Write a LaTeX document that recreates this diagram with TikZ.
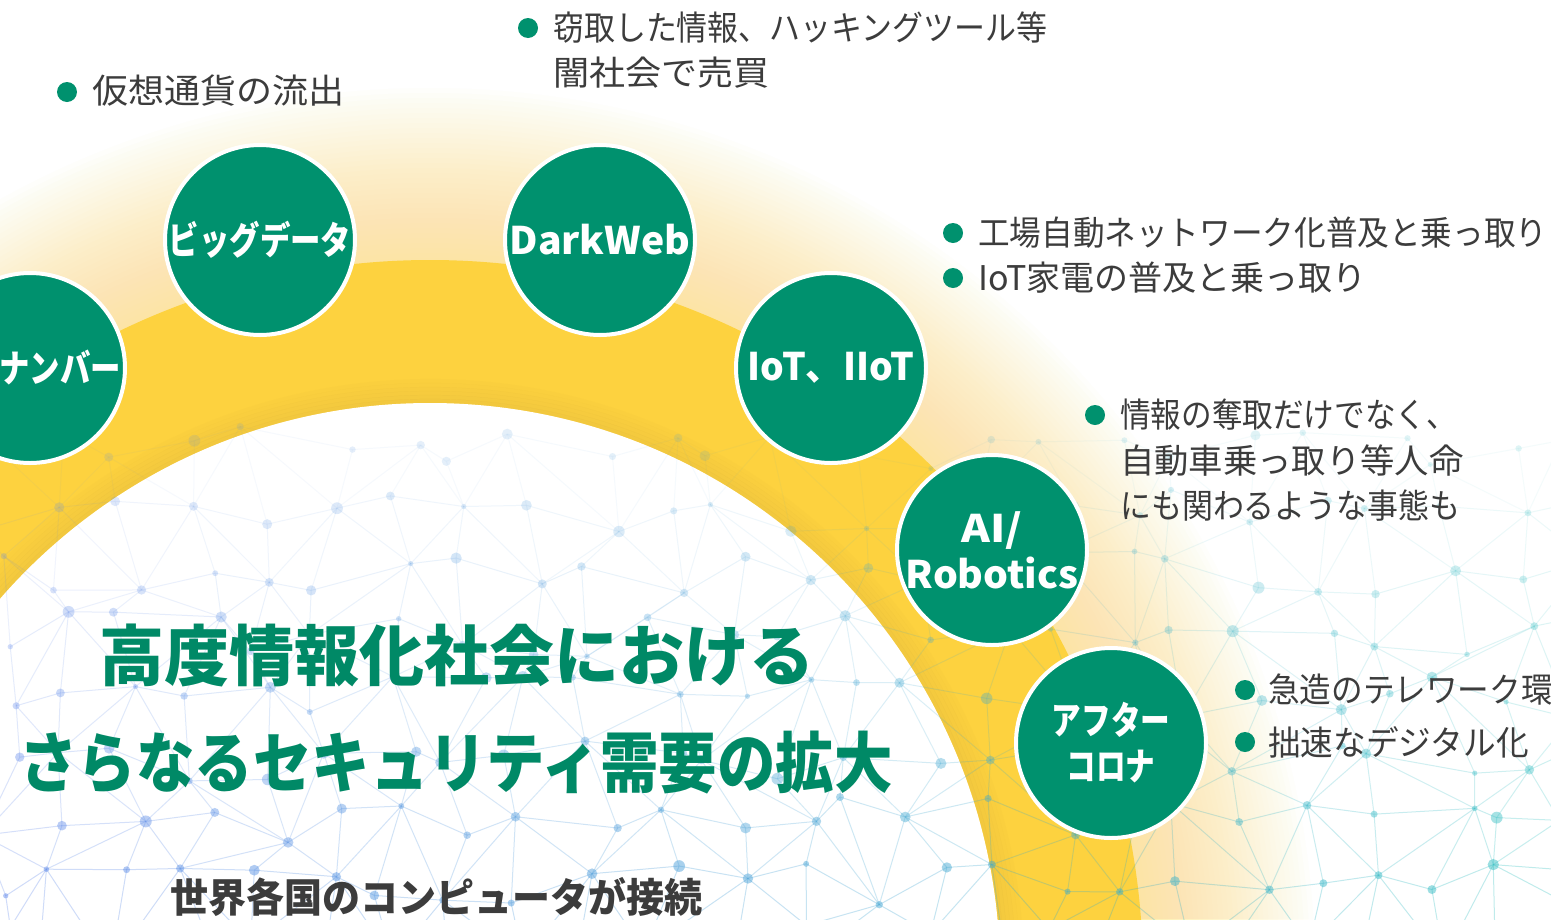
\documentclass[tikz,border=0pt]{standalone}
\usepackage{fontspec}
\usepackage{graphicx}
\newfontfamily\jp{Noto Sans CJK JP}
\definecolor{gcol}{RGB}{0,145,110}
\definecolor{tgreen}{RGB}{0,137,102}
\definecolor{ringy}{RGB}{253,210,63}
\definecolor{haloy}{RGB}{252,228,118}
\definecolor{shadeY}{RGB}{190,150,60}
\definecolor{tgray}{RGB}{60,60,60}
\definecolor{netA}{RGB}{95,135,235}
\definecolor{netB}{RGB}{40,190,190}
\newcommand{\xs}[2]{\scalebox{#1}[1]{#2}}
\begin{document}
\begin{tikzpicture}[x=1pt,y=-1pt,
  gcirc/.style={circle, fill=gcol, draw=white, line width=4pt, minimum size=190pt, inner sep=0pt, text=white, font=\jp\bfseries\fontsize{38}{46}\selectfont, align=center},
  btxt/.style={anchor=west, inner sep=0pt, text=tgray, font=\jp\fontsize{34}{40}\selectfont},
  dot/.style={circle, fill=gcol, minimum size=20pt, inner sep=0pt},
  ttl/.style={inner sep=0pt, text=tgreen, font=\jp\bfseries\fontsize{66}{70}\selectfont},
  subttl/.style={inner sep=0pt, text=tgray, font=\jp\bfseries\fontsize{40}{44}\selectfont},
  netline/.style={line width=1pt},
]
\useasboundingbox (0,0) rectangle (1551,919);
\clip (0,0) rectangle (1551,919);
\fill[white] (0,0) rectangle (1551,919);
\coordinate (ctr) at (430,973);
% halo
\foreach \r in {885,880,...,715}{
  \fill[haloy, opacity=0.022] (ctr) circle (\r);
}
% ring
\fill[ringy] (ctr) circle (713);
\foreach \r [evaluate=\r as \o using {0.16-(\r-572)/160}] in {572,576,...,592}{
  \draw[shadeY, opacity=\o, line width=4.2pt] (ctr) circle (\r);
}
\fill[white] (ctr) circle (570);
% network background
\pgfmathsetseed{42}
\foreach \i in {0,...,24}{
  \foreach \j in {0,...,8}{
    \pgfmathsetmacro\px{\i*66 - 25 + 50*rnd}
    \pgfmathsetmacro\py{425 + \j*62 + 46*rnd}
    \coordinate (n-\i-\j) at (\px,\py);
  }
}
\foreach \i in {0,...,23}{
  \foreach \j in {0,...,7}{
    \pgfmathtruncatemacro\ii{\i+1}
    \pgfmathtruncatemacro\jj{\j+1}
    \pgfmathtruncatemacro\mix{100*\i/23}
    \pgfmathsetmacro\op{0.05+0.035*\j}
    \pgfmathtruncatemacro\alt{mod(\i+\j,2)}
    \draw[netline, color=netB!\mix!netA, opacity=\op] (n-\i-\j) -- (n-\ii-\j) (n-\i-\j) -- (n-\i-\jj);
    \ifnum\alt=0
      \draw[netline, color=netB!\mix!netA, opacity=\op] (n-\i-\j) -- (n-\ii-\jj);
    \else
      \draw[netline, color=netB!\mix!netA, opacity=\op] (n-\ii-\j) -- (n-\i-\jj);
    \fi
  }
}
\foreach \i in {0,...,24}{
  \foreach \j in {0,...,8}{
    \pgfmathtruncatemacro\mix{100*\i/24}
    \pgfmathsetmacro\op{0.15+0.045*\j}
    \pgfmathsetmacro\rr{2.5+3.5*rnd}
    \fill[color=netB!\mix!netA, opacity=\op] (n-\i-\j) circle (\rr);
  }
}
% circles
\node[gcirc] (myn) at (30,368) {\xs{0.8}{マイナンバー}};
\node[gcirc] (big) at (260,240) {\xs{0.8}{ビッグデータ}};
\node[gcirc] (dark) at (600,240) {\xs{1.03}{DarkWeb}};
\node[gcirc] (iot) at (831,368) {\xs{0.98}{IoT、IIoT}};
\node[gcirc] (ai) at (992,550) {\xs{1.15}{AI/}\\\xs{1.03}{Robotics}};
\node[gcirc] (aft) at (1111,743) {\xs{0.78}{アフター}\\\xs{0.78}{コロナ}};
% bullets
\node[dot] (d1) at (67,92) {};
\node[btxt] (t1) at (92,91) {\xs{1.06}{仮想通貨の流出}};
\node[dot] (d2) at (528,28) {};
\node[btxt] (t2a) at (553,28) {\xs{0.91}{窃取した情報、ハッキングツール等}};
\node[btxt] (t2b) at (553,73) {\xs{1.06}{闇社会で売買}};
\node[dot] (d3) at (953,233) {};
\node[btxt] (t3) at (978,233) {\xs{0.93}{工場自動ネットワーク化普及と乗っ取り}};
\node[dot] (d4) at (953,278) {};
\node[btxt] (t4) at (978,278) {\xs{1.0}{IoT家電の普及と乗っ取り}};
\node[dot] (d5) at (1095,415) {};
\node[btxt] (t5a) at (1120,415) {\xs{0.9}{情報の奪取だけでなく、}};
\node[btxt] (t5b) at (1120,461) {\xs{1.01}{自動車乗っ取り等人命}};
\node[btxt] (t5c) at (1120,506) {\xs{0.91}{にも関わるような事態も}};
\node[dot] (d6) at (1245,690) {};
\node[btxt] (t6) at (1268,690) {\xs{0.93}{急造のテレワーク環}};
\node[dot] (d7) at (1245,742) {};
\node[btxt] (t7) at (1268,742) {\xs{0.96}{拙速なデジタル化}};
% titles
\node[ttl] (ti1) at (457,655) {\xs{0.985}{高度情報化社会における}};
\node[ttl] (ti2) at (456,763) {\xs{0.886}{さらなるセキュリティ需要の拡大}};
\node[subttl] (sub) at (436,897) {\xs{0.95}{世界各国のコンピュータが接続}};
\end{tikzpicture}
\end{document}
